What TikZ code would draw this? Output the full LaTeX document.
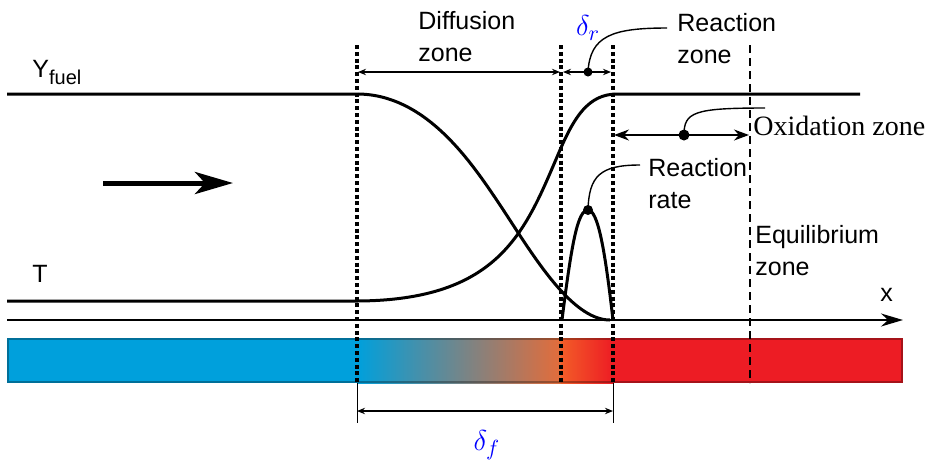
\documentclass[tikz,border=0pt]{standalone}
\usepackage{fontspec}
\setmainfont{Liberation Sans}
\newfontfamily\timesfont{Liberation Serif}
\usetikzlibrary{arrows.meta}
\definecolor{BarBlue}{RGB}{0,160,220}
\definecolor{BarGray}{RGB}{150,135,140}
\definecolor{BarMid}{RGB}{228,108,58}
\definecolor{BarOrange}{RGB}{242,92,40}
\definecolor{BarRed}{RGB}{237,28,36}

\begin{document}
\begin{tikzpicture}[x=0.5pt, y=-0.5pt, >=Stealth,
    curve/.style={line width=1.5pt, line join=round},
    bound/.style={line width=1.6pt, dash pattern=on 2pt off 1.4pt},
    eqbound/.style={line width=1pt, dash pattern=on 4pt off 2.5pt},
    dim/.style={<->, line width=0.6pt, >={Stealth[length=4pt, width=3.2pt]}},
    leader/.style={line width=0.7pt},
    dotmark/.style={circle, fill, inner sep=0pt, minimum size=4.5pt},
    lbl/.style={inner sep=0pt, anchor=north west, align=left,
                font=\fontsize{12.5}{16}\selectfont},
    greek/.style={text=blue, inner sep=0pt, font=\fontsize{15}{17}\selectfont}]
  \useasboundingbox (0,0) rectangle (939,463);
  % Colour bar
  \fill[BarBlue] (7,338) rectangle (357,383);
  \shade[left color=BarBlue, middle color=BarGray, right color=BarMid]
    (357,338) rectangle (561,383);
  \shade[left color=BarOrange, right color=BarRed] (561,338) rectangle (613,383);
  \fill[BarRed] (613,338) rectangle (903,383);
  \draw[black, line width=1.1pt, opacity=0.3] (8,339) rectangle (902,382);
  % Zone boundaries
  \foreach \bx in {357,561,613}
    \draw[bound] (\bx,45) -- (\bx,383);
  \draw[eqbound] (750,45) -- (750,383);
  % Axis
  \draw[line width=1pt, -{Stealth[length=11pt, width=6.5pt]}] (7,320) -- (903,320);
  \node[lbl] (xlab) at (880,288) {x};
  % Profiles
  \draw[curve] (7,94) -- (357,94) .. controls (425,94) and (470,160) .. (500,205)
    .. controls (530,250) and (570,320) .. (610,320);
  \draw[curve] (7,301) -- (355,301) .. controls (502,301) and (526,229) .. (560,150)
    .. controls (574,118) and (588,94) .. (617,94) -- (860,94);
  \draw[curve] (562,320) .. controls (572,240) and (578,210) .. (588,210)
    .. controls (598,210) and (605,250) .. (613,320);
  \node[lbl] (yfuel) at (32,60) {Y\raisebox{-3.5pt}{\fontsize{10}{12}\selectfont fuel}};
  \node[lbl] (tlab) at (32,265) {T};
  % Flow direction
  \coordinate (flowA) at (103,183);
  \coordinate (flowB) at (233,183);
  \draw[line width=2.5pt, -{Stealth[length=19pt, width=11pt, inset=5pt]}] (flowA) -- (flowB);
  % Diffusion zone
  \node[lbl] (diff) at (418,11) {Diffusion\\zone};
  \coordinate (dzL) at (358,72);
  \coordinate (dzR) at (560,72);
  \draw[dim] (dzL) -- (dzR);
  % Reaction zone
  \node[greek] (dr) at (588,28) {$\delta_r$};
  \coordinate (drL) at (563,72);
  \coordinate (drR) at (611,72);
  \draw[dim] (drL) -- (drR);
  \node[dotmark] (drdot) at (588,72) {};
  \node[lbl] (rzone) at (677,13) {Reaction\\zone};
  \coordinate (rzend) at (667,28);
  \draw[leader] (drdot.center) .. controls (590,36) and (612,28) .. (rzend);
  % Oxidation zone
  \coordinate (oxL) at (614,135);
  \coordinate (oxR) at (749,135);
  \draw[<->, line width=0.8pt, >={Stealth[length=7.5pt, width=5.5pt]}] (oxL) -- (oxR);
  \node[dotmark, minimum size=5.5pt] (oxdot) at (684,135) {};
  \coordinate (oxend) at (765,108);
  \draw[leader] (oxdot.center) .. controls (684,112) and (694,108) .. (oxend);
  \node[lbl, font=\timesfont\fontsize{14}{16}\selectfont] (oxi) at (753,116) {Oxidation zone};
  % Reaction rate
  \node[dotmark, minimum size=5pt] (rrdot) at (588,210) {};
  \node[lbl] (rrate) at (648,158) {Reaction\\rate};
  \coordinate (rrend) at (640,165);
  \draw[leader] (rrdot.center) .. controls (589,176) and (600,165) .. (rrend);
  % Equilibrium zone
  \node[lbl] (equil) at (755,225) {Equilibrium\\zone};
  % Flame thickness
  \coordinate (dfL) at (357,411);
  \coordinate (dfR) at (613,411);
  \draw[line width=0.5pt] (357,383) -- (357,423) (613,383) -- (613,423);
  \draw[dim] (dfL) -- (dfR);
  \node[greek] (df) at (487,445) {$\delta_f$};
\end{tikzpicture}
\end{document}
